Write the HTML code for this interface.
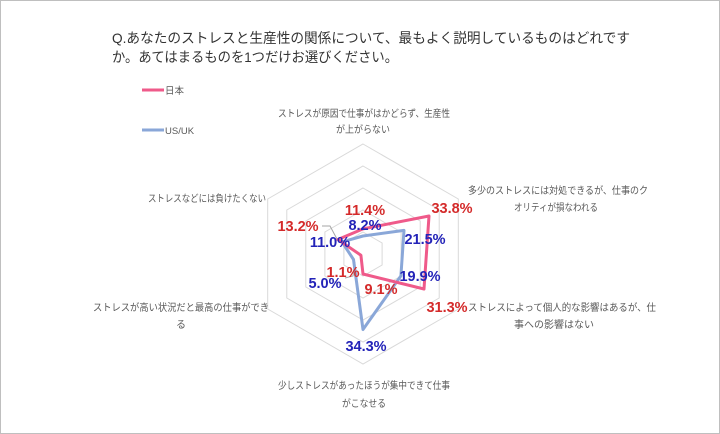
<!DOCTYPE html>
<html><head><meta charset="utf-8"><style>
body{margin:0;background:#fff;}
svg{display:block;font-family:"Liberation Sans","Noto Sans CJK JP",sans-serif;}
.c{font-size:10px;fill:#595959;}
.r{font-size:14.5px;font-weight:bold;fill:#d42a2a;}
.b{font-size:14.5px;font-weight:bold;fill:#2323b8;}
</style></head><body>
<svg width="720" height="434" viewBox="0 0 720 434">
<rect x="0.5" y="0.5" width="719" height="433" fill="#fff" stroke="#bfbfbf"/>
<text x="112" y="43" font-size="14" fill="#333" textLength="518" lengthAdjust="spacingAndGlyphs">Q.あなたのストレスと生産性の関係について、最もよく説明しているものはどれです</text>
<text x="112" y="62" font-size="14" fill="#333" textLength="286" lengthAdjust="spacingAndGlyphs">か。あてはまるものを1つだけお選びください。</text>
<line x1="142" y1="90" x2="164" y2="90" stroke="#ef5a8a" stroke-width="3"/>
<text x="165" y="94" font-size="9.5" fill="#595959">日本</text>
<line x1="142" y1="130" x2="164" y2="130" stroke="#8aa7d8" stroke-width="3"/>
<text x="165" y="134" font-size="9.5" fill="#595959">US/UK</text>
<g fill="none" stroke="#d9d9d9" stroke-width="1">
<polygon points="363,232 382.1,243 382.1,265 363,276 343.9,265 343.9,243"/>
<polygon points="363,210 401.1,232 401.1,276 363,298 324.9,276 324.9,232"/>
<polygon points="363,188 420.2,221 420.2,287 363,320 305.8,287 305.8,221"/>
<polygon points="363,166 439.2,210 439.2,298 363,342 286.8,298 286.8,210"/>
<polygon points="363,144 458.3,199 458.3,309 363,364 267.7,309 267.7,199"/>
</g>
<polyline points="322,226 330,226 337,239" fill="none" stroke="#a6a6a6"/>
<polyline points="345,278 353,276 355,262" fill="none" stroke="#a6a6a6"/>
<polygon points="363,236 404,230.4 400.9,275.9 363,329.5 353.5,259.5 342,241.9" fill="none" stroke="#8aa7d8" stroke-width="3" stroke-linejoin="round"/>
<polygon points="363,228.9 429,216 424,289 363,274 360.9,255.2 337.9,239.5" fill="none" stroke="#ef5a8a" stroke-width="3" stroke-linejoin="round"/>
<text class="c" x="278" y="117" textLength="172" lengthAdjust="spacingAndGlyphs">ストレスが原因で仕事がはかどらず、生産性</text>
<text class="c" x="336" y="133" textLength="54" lengthAdjust="spacingAndGlyphs">が上がらない</text>
<text class="c" x="278" y="389" textLength="172" lengthAdjust="spacingAndGlyphs">少しストレスがあったほうが集中できて仕事</text>
<text class="c" x="342" y="407" textLength="44" lengthAdjust="spacingAndGlyphs">がこなせる</text>
<text class="c" x="514" y="211" textLength="84" lengthAdjust="spacingAndGlyphs">オリティが損なわれる</text>
<text class="c" x="514" y="328" textLength="80" lengthAdjust="spacingAndGlyphs">事への影響はない</text>
<text class="c" x="176" y="328">る</text>
<text class="c" x="468" y="194" textLength="180" lengthAdjust="spacingAndGlyphs">多少のストレスには対処できるが、仕事のク</text>
<text class="c" x="468" y="311" textLength="188" lengthAdjust="spacingAndGlyphs">ストレスによって個人的な影響はあるが、仕</text>
<text class="c" x="93" y="311" textLength="176" lengthAdjust="spacingAndGlyphs">ストレスが高い状況だと最高の仕事ができ</text>
<text class="c" x="148" y="202" textLength="118" lengthAdjust="spacingAndGlyphs">ストレスなどには負けたくない</text>
<g text-anchor="middle">
<text class="r" x="365" y="215">11.4%</text>
<text class="b" x="365" y="230">8.2%</text>
<text class="r" x="452" y="213">33.8%</text>
<text class="b" x="425" y="244">21.5%</text>
<text class="b" x="420" y="281">19.9%</text>
<text class="r" x="381" y="294">9.1%</text>
<text class="r" x="447" y="312">31.3%</text>
<text class="b" x="366" y="351">34.3%</text>
<text class="r" x="343" y="277">1.1%</text>
<text class="b" x="325" y="288">5.0%</text>
<text class="r" x="298" y="231">13.2%</text>
<text class="b" x="330" y="247">11.0%</text>
</g>
</svg>
</body></html>
